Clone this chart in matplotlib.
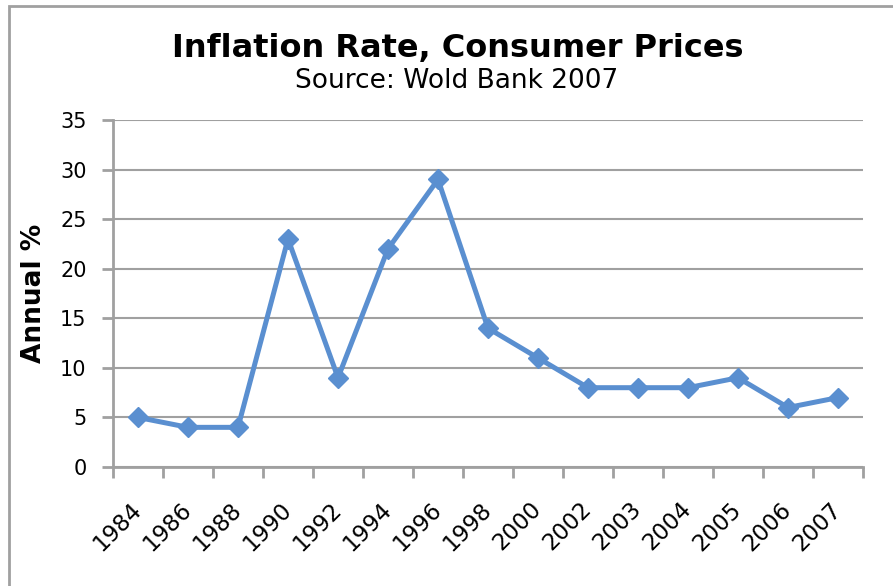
import matplotlib.pyplot as plt
from matplotlib.patches import Rectangle
import numpy as np

# Data
years = ["1984", "1986", "1988", "1990", "1992", "1994", "1996", "1998",
         "2000", "2002", "2003", "2004", "2005", "2006", "2007"]
inflation = [5, 4, 4, 23, 9, 22, 29, 14, 11, 8, 8, 8, 9, 6, 7]

grey = "#A0A0A0"
blue = "#5A8FD0"

fig = plt.figure(figsize=(8.93, 5.86), dpi=100)
ax = fig.add_axes([113 / 893, 1 - 467 / 586, 750 / 893, 347 / 586])

# outer chart border
fig.patches.append(Rectangle((9 / 893, -0.05), 1.2, 1 - 6 / 586 + 0.05,
                             transform=fig.transFigure, fill=False,
                             edgecolor=grey, linewidth=2))

x = np.arange(len(years))
ax.plot(x, inflation, color=blue, linewidth=3.6, marker="D", markersize=10.5,
        clip_on=False, zorder=3)

ax.set_xlim(-0.5, len(years) - 0.5)
ax.set_ylim(0, 35)
ax.set_yticks(range(0, 36, 5))
ax.set_xticks(x)
ax.set_xticks(np.arange(-0.5, len(years), 1), minor=True)
ax.set_xticklabels(years, rotation=45, ha="right", va="center",
                   rotation_mode="anchor", fontsize=16.5)
ax.tick_params(axis="x", which="major", length=0, pad=28)
ax.tick_params(axis="x", which="minor", length=8, width=2, color=grey)
ax.tick_params(axis="y", length=8, width=2, color=grey, labelsize=15, pad=11)

ax.grid(axis="y", color=grey, linewidth=1.5)
ax.set_axisbelow(True)
for side in ["top", "right"]:
    ax.spines[side].set_visible(False)
for side in ["left", "bottom"]:
    ax.spines[side].set_color(grey)
    ax.spines[side].set_linewidth(2)
    ax.spines[side].set_zorder(2.5)

ax.set_ylabel("Annual %", fontsize=19, fontweight="bold")
ax.yaxis.set_label_coords(-66 / 750, 0.5)

fig.text(458 / 893, 1 - 48 / 586, "Inflation Rate, Consumer Prices",
         ha="center", va="center", fontsize=23, fontweight="bold")
fig.text(457 / 893, 1 - 81 / 586, "Source: Wold Bank 2007",
         ha="center", va="center", fontsize=19)

fig.savefig("out.png", dpi=100)
